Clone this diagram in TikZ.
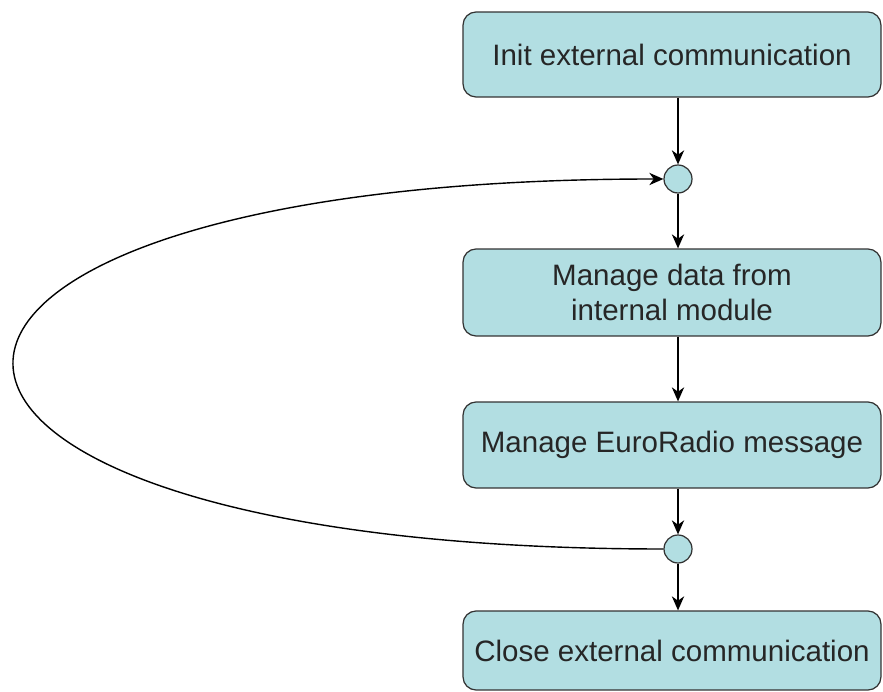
\documentclass[tikz,border=0pt]{standalone}
\usepackage{fontspec}
\setmainfont{Liberation Sans}
\usetikzlibrary{arrows.meta}
\definecolor{boxfill}{RGB}{178,222,226}

\begin{document}
\begin{tikzpicture}[x=0.02cm,y=-0.02cm,
	stepbox/.style={draw=black!80,fill=boxfill,rounded corners=0.26cm,line width=0.7pt,minimum width=8.36cm,inner sep=0pt,align=center,text=black!85,font=\fontsize{16.8}{20}\selectfont},
	joint/.style={circle,draw=black!80,fill=boxfill,minimum size=0.56cm,inner sep=0pt,line width=0.7pt},
	flow/.style={-{Stealth[length=8pt,width=7pt,inset=2.5pt]},line width=0.8pt}]
			\useasboundingbox (0,0) rectangle (883,692);
			\node[stepbox,minimum height=1.7cm] (init) at (672,54.5) {Init external communication};
			\node[joint] (loopin) at (678,179) {};
			\node[stepbox,minimum height=1.74cm] (data) at (672,292.5) {Manage data from\\internal module};
			\node[stepbox,minimum height=1.72cm] (radio) at (672,445) {Manage EuroRadio message};
			\node[joint] (loopout) at (678,549) {};
			\node[stepbox,minimum height=1.58cm] (close) at (672,650.5) {Close external communication};
			\draw[flow] (init.south -| loopin) -- (loopin);
			\draw[flow] (loopin) -- (loopin |- data.north);
			\draw[flow] (data.south -| loopin) -- (loopin |- radio.north);
			\draw[flow] (radio.south -| loopout) -- (loopout);
			\draw[flow] (loopout) -- (loopout |- close.north);
			\draw[flow] (loopout.west) to[out=180,in=180,looseness=6] (loopin.west);
		\end{tikzpicture}
\end{document}
